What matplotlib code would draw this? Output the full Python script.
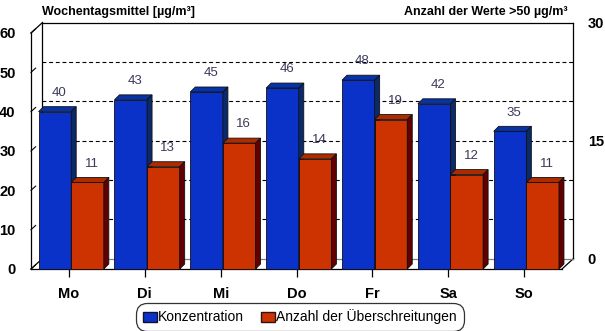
import matplotlib.pyplot as plt
from matplotlib.patches import Polygon, Rectangle, Patch
from matplotlib.transforms import ScaledTranslation

plt.rcParams['font.family'] = ['Liberation Sans', 'DejaVu Sans']

tage = ['Mo', 'Di', 'Mi', 'Do', 'Fr', 'Sa', 'So']
konzentration = [40, 43, 45, 46, 48, 42, 35]
ueberschreitungen = [11, 13, 16, 14, 19, 12, 11]

blau = ('#0a32c8', '#0733a8', '#0a2a6a')   # front, top, side
rot = ('#cc3300', '#b02a00', '#600000')

W, H = 605, 331
fig = plt.figure(figsize=(W / 100, H / 100), dpi=100)
# front plane of the box: 31..562 px horizontally, 33..269 px vertically
ax = fig.add_axes([31 / W, 62 / H, 531 / W, 236 / H])
ax.set_xlim(-0.5, 6.5)
ax.set_ylim(0, 60)
ax2 = ax.twinx()
ax2.set_ylim(0, 30)

for a in (ax, ax2):
    for s in a.spines.values():
        s.set_visible(False)
    a.patch.set_visible(False)

# depth of the chart box and of each bar, px -> data units
px_x = 7 / 531
px_y = 60 / 236
wx, wy = 11.5 * px_x, 10.5 * px_y
bx, by = 5 * px_x, 5 * px_y

# walls
kw = dict(color='black', lw=0.9, clip_on=False, zorder=1)
ax.plot([-0.5 + wx, 6.5 + wx], [60 + wy, 60 + wy], **kw)
ax.plot([-0.5 + wx, -0.5 + wx], [wy, 60 + wy], **kw)
ax.plot([6.5 + wx, 6.5 + wx], [wy, 60 + wy], **kw)
ax.plot([-0.5, -0.5], [0, 60], **kw)
ax.plot([-0.5, -0.5 + wx], [60, 60 + wy], **kw)
ax.plot([-0.5, 6.5], [0, 0], **kw)
ax.plot([-0.5, -0.5 + wx], [0, wy], **kw)
ax.plot([6.5, 6.5 + wx], [0, wy], **kw)
ax.plot([-0.5 + wx, 6.5 + wx], [wy, wy], color='#808080', lw=0.9, clip_on=False, zorder=1)
for v in range(10, 60, 10):
    ax.plot([-0.5 + wx, 6.5 + wx], [v + wy, v + wy], color='black', lw=0.8,
            ls=(0, (3.5, 2.5)), clip_on=False, zorder=1)
for v in range(0, 70, 10):
    ax.plot([-0.5, -0.5 + 0.4 * wx], [v, v + 0.4 * wy], color='black', lw=0.8,
            clip_on=False, zorder=1)


def bar3d(a, x0, w, h, cols, dy):
    a.add_patch(Rectangle((x0, 0), w, h, facecolor=cols[0], edgecolor='#101010',
                          lw=0.6, clip_on=False, zorder=3))
    a.add_patch(Polygon([(x0, h), (x0 + w, h), (x0 + w + bx, h + dy), (x0 + bx, h + dy)],
                        facecolor=cols[1], edgecolor='#101010', lw=0.6, clip_on=False, zorder=3))
    a.add_patch(Polygon([(x0 + w, 0), (x0 + w + bx, dy), (x0 + w + bx, h + dy), (x0 + w, h)],
                        facecolor=cols[2], edgecolor='#101010', lw=0.6, clip_on=False, zorder=3))
    a.annotate(str(h), (x0 + w / 2, h), xytext=(3, 13.5),
               textcoords='offset points', ha='center', va='center',
               fontsize=9.5, color='#3a3a5a', zorder=4, annotation_clip=False)


bw = 0.43
for i in range(len(tage)):
    bar3d(ax, i - 0.40, bw, konzentration[i], blau, by)
    bar3d(ax2, i + 0.03, bw, ueberschreitungen[i], rot, by / 2)

# axes labels
ax.set_xticks(range(len(tage)))
ax.set_xticklabels(tage, fontsize=10.5, fontweight='bold')
ax.tick_params(axis='x', length=6, width=0.9, pad=7, direction='out')
ax.set_yticks(range(0, 70, 10))
ax.tick_params(axis='y', length=0, pad=11, labelsize=10.5)
for t in ax.get_yticklabels():
    t.set_fontweight('bold')
ax2.set_yticks([0, 15, 30])
ax2.tick_params(axis='y', length=0, pad=18.5, labelsize=10.5)
shift = ScaledTranslation(0, 10.5 / 100, fig.dpi_scale_trans)
for t in ax2.get_yticklabels():
    t.set_fontweight('bold')
    t.set_transform(t.get_transform() + shift)

fig.text(42 / W, 1 - 12 / H, 'Wochentagsmittel [µg/m³]', fontsize=9, fontweight='bold',
         va='center', ha='left')
fig.text(568 / W, 1 - 12 / H, 'Anzahl der Werte >50 µg/m³', fontsize=9, fontweight='bold',
         va='center', ha='right')

handles = [Patch(facecolor=blau[0], edgecolor='#101030', label='Konzentration'),
           Patch(facecolor=rot[0], edgecolor='#301010', label='Anzahl der Überschreitungen')]
leg = fig.legend(handles=handles, loc='center', bbox_to_anchor=(300 / W, 1 - 317 / H),
                 ncol=2, fontsize=10, frameon=True, fancybox=True, edgecolor='black',
                 handlelength=1.0, handleheight=0.75, handletextpad=0.1, columnspacing=1.2,
                 borderpad=0.15, borderaxespad=0)
leg.get_frame().set_boxstyle('round,pad=0.35,rounding_size=0.8')
leg.get_frame().set_linewidth(0.9)

fig.savefig('out.png', dpi=100, facecolor='white')
